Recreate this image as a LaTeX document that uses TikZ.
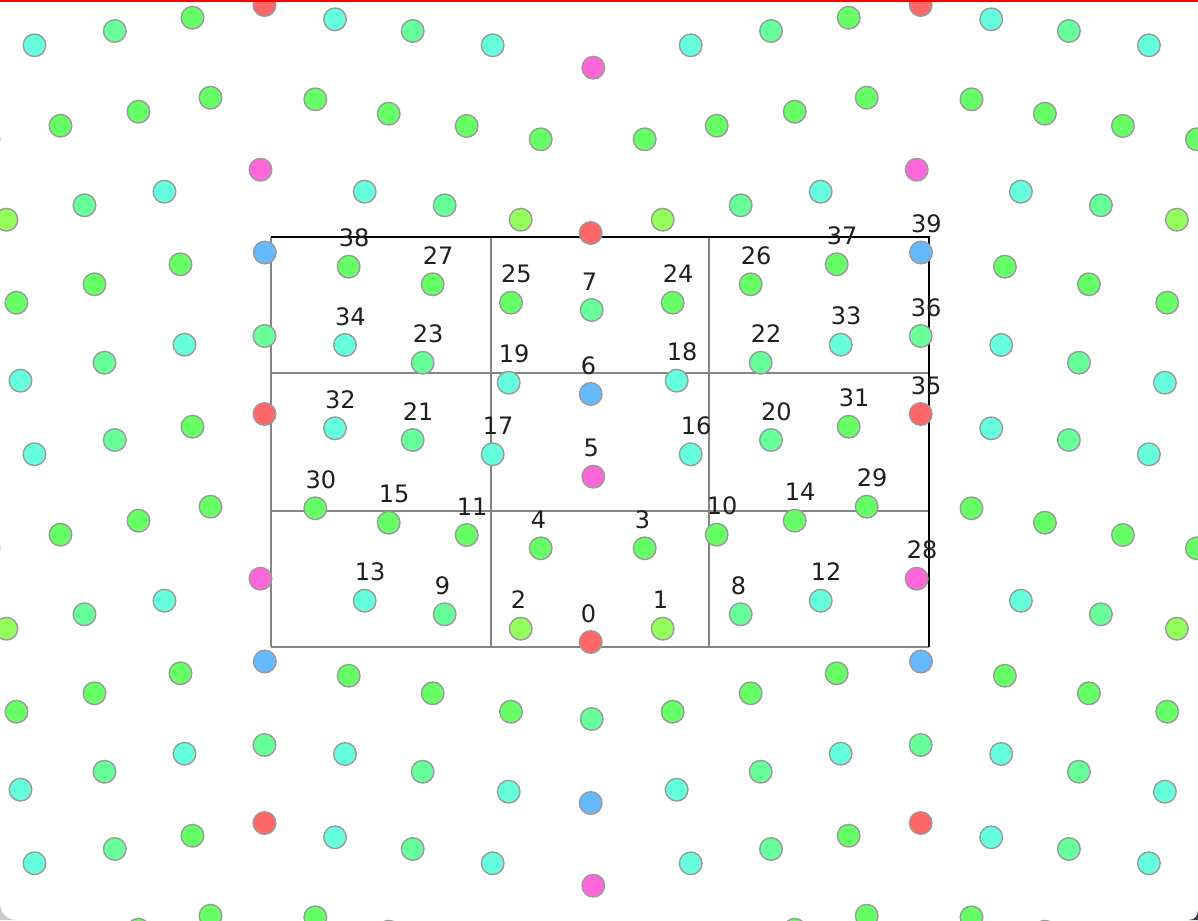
\documentclass[tikz,border=0pt]{standalone}
\usepackage{fontspec}
\newfontfamily\lblfont{DejaVu Sans}
\definecolor{cred}{HTML}{FF6666}
\definecolor{cblue}{HTML}{66B8FF}
\definecolor{cpink}{HTML}{FF66D9}
\definecolor{ccyan}{HTML}{66FFDD}
\definecolor{cmint}{HTML}{66FF99}
\definecolor{cgreen}{HTML}{66FF66}
\definecolor{clime}{HTML}{94FF5C}
\definecolor{dotgray}{HTML}{9A9A9A}
\definecolor{linegray}{HTML}{858585}
\definecolor{cornergray}{HTML}{CCCCCC}
\definecolor{cornerdark}{HTML}{3A3A58}
\def\dotlist{0/590.7/642/cred, 1/662.7/628.7/clime, 2/520.7/628.7/clime, 3/644.7/548.3/cgreen,
4/540.7/548.3/cgreen, 5/593.3/476.7/cpink, 6/590.7/394/cblue, 7/591.7/310/cmint,
8/740.7/614.3/cmint, 9/444.7/614.3/cmint, 10/716.7/534.7/cgreen, 11/466.7/535/cgreen,
12/820.7/600.7/ccyan, 13/364.7/600.7/ccyan, 14/794.7/520.7/cgreen, 15/388.7/522.7/cgreen,
16/690.7/454.3/ccyan, 17/492.7/454.3/ccyan, 18/676.7/380.7/ccyan, 19/508.7/382.7/ccyan,
20/771/440/cmint, 21/412.7/440/cmint, 22/760.7/362.7/cmint, 23/422.7/362.7/cmint,
24/672.7/302.7/cgreen, 25/511/302.7/cgreen, 26/750.7/284.3/cgreen, 27/432.7/284.3/cgreen,
28/916.7/578.7/cpink, 29/866.7/506.7/cgreen, 30/315.3/508.3/cgreen, 31/848.7/426.7/cgreen,
32/335/428.3/ccyan, 33/840.7/344.7/ccyan, 34/345/345/ccyan, 35/920.7/414/cred,
36/920.7/336/cmint, 37/836.7/264.3/cgreen, 38/348.7/266.7/cgreen, 39/921/252.5/cblue}
\begin{document}
\begin{tikzpicture}[x=1pt,y=-1pt,
  dot/.style={circle, draw=dotgray, line width=1.4pt, minimum size=22.6pt, inner sep=0pt},
  lbl/.style={anchor=base west, inner sep=0pt, font=\lblfont\fontsize{24}{28}\selectfont, text=black!88},
  gline/.style={draw=linegray, line width=1.3pt},
  bline/.style={draw=black, line width=1.6pt}]
\useasboundingbox (0,0) rectangle (1198,920);
\fill[white] (0,0) rectangle (1198,920);
% grid
\coordinate (A0) at (271,237); \coordinate (A1) at (491,237);
\coordinate (A2) at (709,237); \coordinate (A3) at (929,237);
\coordinate (B0) at (271,373); \coordinate (B3) at (929,373);
\coordinate (C0) at (271,511); \coordinate (C3) at (929,511);
\coordinate (D0) at (271,647); \coordinate (D1) at (491,647);
\coordinate (D2) at (709,647); \coordinate (D3) at (929,647);
\draw[gline] (A0) -- (D0);
\draw[gline] (D0) -- (D3);
\draw[gline] (A1) -- (D1);
\draw[gline] (A2) -- (D2);
\draw[gline] (B0) -- (B3);
\draw[gline] (C0) -- (C3);
\draw[bline] (A0) -- (A3) -- (D3);
% periodic copies
\begin{scope}
\clip (0,0) rectangle (1198,920);
\foreach \n/\px/\py/\c in \dotlist {
  \foreach \i/\ia in {-1/a,0/b,1/c} {
    \foreach \j/\ja in {-1/a,0/b,1/c} {
      \pgfmathtruncatemacro\skipit{and(\i==0,\j==0)}
      \ifnum\skipit=0
        \node[dot, fill=\c] (c\n\ia\ja) at ({\px+\i*656.2},{\py+\j*409}) {};
      \fi
    }
  }
}
\end{scope}
% main tile dots and labels
\foreach \n/\px/\py/\c in \dotlist {
  \node[dot, fill=\c] (p\n) at (\px,\py) {};
}
\foreach \n/\px/\py/\c in \dotlist {
  \node[lbl] (l\n) at (\px-10,\py-20) {\n};
}
% window frame bits
\fill[cornergray] (0,903) .. controls (0,913) and (7,920) .. (17,920) -- (0,920) -- cycle;
\fill[cornerdark] (1198,910) .. controls (1198,915) and (1195,920) .. (1189,920) -- (1198,920) -- cycle;
\fill[red] (0,0) rectangle (1198,2.5);
\end{tikzpicture}
\end{document}
